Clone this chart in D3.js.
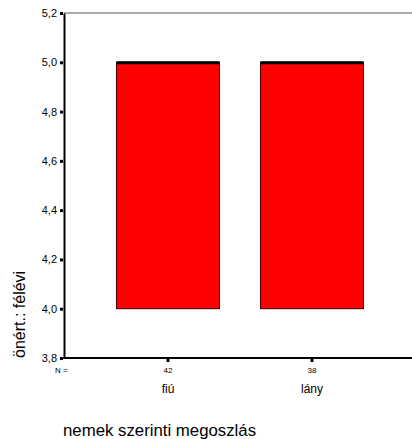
<!DOCTYPE html>
<html>
<head>
<meta charset="utf-8">
<script src="https://cdn.jsdelivr.net/npm/d3@7"></script>
<style>
  html, body { margin: 0; padding: 0; background: #fff; }
  svg { display: block; font-family: Arial, "Liberation Sans", sans-serif; }
</style>
</head>
<body>
<svg id="chart" width="412" height="439"></svg>
<script>
// Boxplot of "önért.: félévi" by gender
const categories = ["fiú", "lány"];
const counts = [42, 38];
const q1 = [4.0, 4.0];
const medians = [5.0, 5.0];
const q3 = [5.0, 5.0];
const yTicks = [3.8, 4.0, 4.2, 4.4, 4.6, 4.8, 5.0, 5.2];

const svg = d3.select("#chart");
const plotLeft = 64, plotRight = 412, plotTop = 13, plotBottom = 358;

const y = d3.scaleLinear().domain([3.8, 5.2]).range([plotBottom, plotTop]);
const xCenter = d3.scalePoint().domain(categories).range([168, 312]);
const boxW = 103;

// top frame line
svg.append("line").attr("x1", plotLeft).attr("x2", plotRight).attr("y1", plotTop).attr("y2", plotTop)
  .attr("stroke", "#555").attr("stroke-width", 1);

// boxes with median line
const g = svg.append("g");
categories.forEach((c, i) => {
  const cx = xCenter(c);
  g.append("rect")
    .attr("x", cx - boxW / 2).attr("width", boxW)
    .attr("y", y(q3[i])).attr("height", y(q1[i]) - y(q3[i]))
    .attr("fill", "#ff0000").attr("stroke", "#3a0000").attr("stroke-width", 1);
  g.append("line")
    .attr("x1", cx - boxW / 2).attr("x2", cx + boxW / 2)
    .attr("y1", y(medians[i]) + 0.5).attr("y2", y(medians[i]) + 0.5)
    .attr("stroke", "#000").attr("stroke-width", 3);
});

// y axis
const yAxis = d3.axisLeft(y).tickValues(yTicks).tickSize(0).tickPadding(7)
  .tickFormat(d => d3.format(".1f")(d).replace(".", ","));
const ya = svg.append("g").attr("transform", `translate(${plotLeft},0)`).call(yAxis);
ya.select(".domain").attr("stroke", "#000").attr("stroke-width", 2);
ya.selectAll(".tick text").attr("font-size", 11).attr("fill", "#000")
  .attr("font-family", "Arial, 'Liberation Sans', sans-serif");
ya.selectAll(".tick").append("rect").attr("x", -4).attr("y", -1.5).attr("width", 3).attr("height", 3).attr("fill", "#000");

// x axis
svg.append("line").attr("x1", plotLeft - 1).attr("x2", plotRight).attr("y1", plotBottom).attr("y2", plotBottom)
  .attr("stroke", "#000").attr("stroke-width", 2);
const xa = svg.append("g").attr("transform", `translate(0,${plotBottom})`);
categories.forEach((c, i) => {
  const cx = xCenter(c);
  xa.append("rect").attr("x", cx - 1.5).attr("y", 1).attr("width", 3).attr("height", 3).attr("fill", "#000");
  xa.append("text").attr("x", cx).attr("y", 15).attr("text-anchor", "middle")
    .attr("font-size", 8).text(counts[i]);
  xa.append("text").attr("x", cx).attr("y", 35).attr("text-anchor", "middle")
    .attr("font-size", 12).text(c);
});
xa.append("text").attr("x", 55).attr("y", 15).attr("font-size", 8).text("N =");

// axis titles
svg.append("text").attr("transform", "translate(25,358) rotate(-90)")
  .attr("font-size", 16).attr("text-anchor", "start").text("önért.: félévi");
svg.append("text").attr("x", 63).attr("y", 436).attr("font-size", 16.8).text("nemek szerinti megoszlás");
</script>
</body>
</html>
